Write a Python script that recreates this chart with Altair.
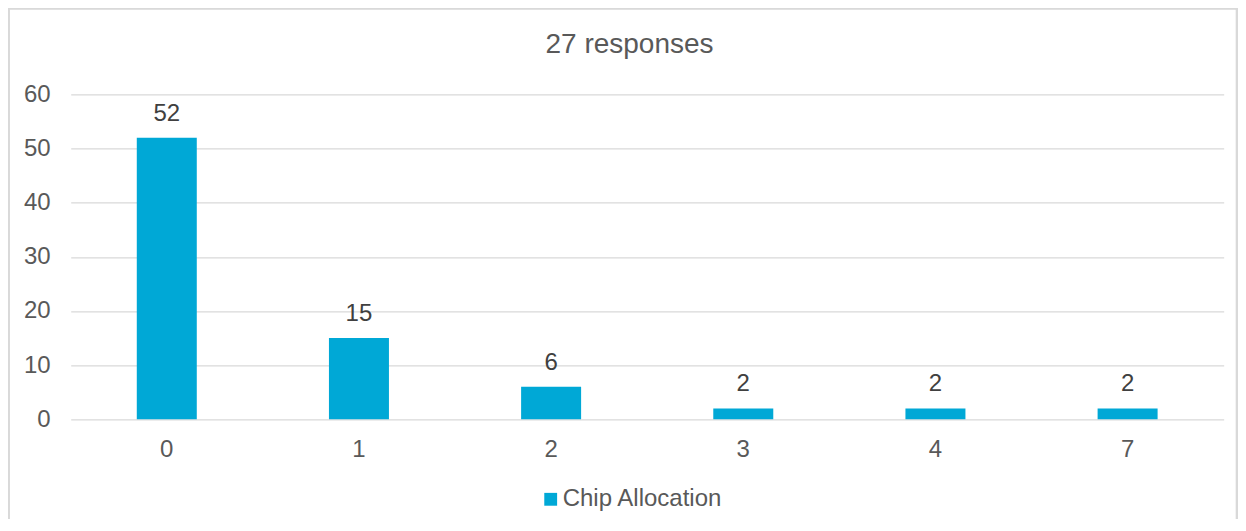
import altair as alt
import pandas as pd

categories = ["0", "1", "2", "3", "4", "7"]
counts = [52, 15, 6, 2, 2, 2]
series_name = "Chip Allocation"
y_ticks = [0, 10, 20, 30, 40, 50, 60]
title_text = "27 responses"

FONT = "Liberation Sans"
BAR = "#00A8D6"
GRID = "#d9d9d9"
LABEL = "#595959"

df = pd.DataFrame({
    "allocation": categories,
    "count": counts,
    "series": [series_name] * len(categories),
})

x = alt.X(
    "allocation:N", sort=categories,
    scale=alt.Scale(paddingInner=0, paddingOuter=0),
    axis=alt.Axis(title=None, labelAngle=0, ticks=False, tickSize=0, domain=False,
                  grid=False, labelPadding=18, labelFontSize=24, labelColor=LABEL,
                  labelFont=FONT),
)
y = alt.Y(
    "count:Q", scale=alt.Scale(domain=[0, 60], nice=False),
    axis=alt.Axis(title=None, values=y_ticks, ticks=False, tickSize=0, domain=False,
                  grid=True, gridColor=GRID, gridWidth=1.3, labelPadding=20.5,
                  labelFontSize=24, labelColor=LABEL, labelFont=FONT),
)

base = alt.Chart(df)

frame = base.mark_rect(fill=None, stroke=GRID, strokeWidth=1.5).encode(
    x=alt.value(-62), x2=alt.value(1166), y=alt.value(-85.8), y2=alt.value(600)
)

bars = base.mark_bar(size=60).encode(
    x=x, y=y,
    color=alt.Color(
        "series:N",
        scale=alt.Scale(range=[BAR]),
        legend=alt.Legend(title=None, orient="none", legendX=468, legendY=393,
                          symbolType="square", symbolSize=165, symbolStrokeWidth=0,
                          labelFontSize=24, labelColor=LABEL, labelFont=FONT,
                          labelOffset=0, labelLimit=400, padding=0),
    ),
)

labels = base.mark_text(baseline="alphabetic", dy=-17, fontSize=24,
                        color="#404040", font=FONT).encode(
    x=x, y=y, text="count:Q"
)

chart = alt.layer(frame, bars, labels).properties(
    width=1153,
    height=325,
    padding={"left": 62.7, "top": 86.3, "right": 14, "bottom": 100},
    autosize=alt.AutoSizeParams(type="none"),
    title=alt.Title(title_text, fontSize=28, font=FONT, color=LABEL,
                    fontWeight="normal", anchor="middle", dx=-17.7,
                    baseline="alphabetic", offset=0, dy=73),
).configure_view(stroke=None)

chart.save("out.html", embed_options={"renderer": "svg", "actions": False})
